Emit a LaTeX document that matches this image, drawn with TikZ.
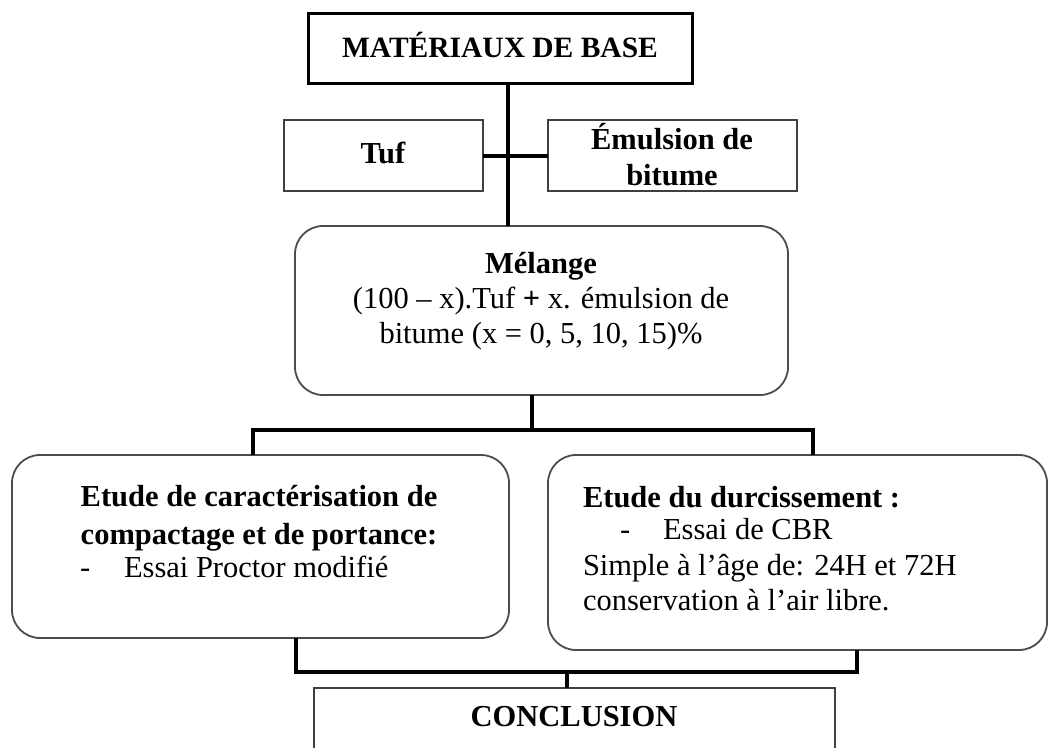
\documentclass[tikz,border=0pt]{standalone}
\usepackage{fontspec}
\setmainfont{Liberation Serif}
\begin{document}
\begin{tikzpicture}[x=1pt,y=-1pt,
  every node/.style={inner sep=0pt,outer sep=0pt},
  sqbox/.style={draw=black!75,line width=2.2pt,anchor=north west},
  rbox/.style={draw=black!70,line width=1.8pt,rounded corners=28pt,anchor=north west},
  conn/.style={draw=black,line width=4pt},
  txt/.style={anchor=base,font=\fontsize{30.5}{36}\selectfont},
  txtl/.style={anchor=base west,font=\fontsize{30.5}{36}\selectfont}]
\useasboundingbox (0,0) rectangle (1049,747);
\fill[white] (0,0) rectangle (1049,747);
% boxes
\node[sqbox,draw=black,line width=3pt,minimum width=384pt,minimum height=70pt] (mat) at (308,13) {};
\node[sqbox,minimum width=199pt,minimum height=71pt] (tuf) at (284,120) {};
\node[sqbox,minimum width=249pt,minimum height=71pt] (emu) at (548,120) {};
\node[rbox,minimum width=493pt,minimum height=169pt] (mel) at (295,226) {};
\node[rbox,minimum width=497pt,minimum height=183pt] (car) at (12,455) {};
\node[rbox,minimum width=499pt,minimum height=195pt] (dur) at (548,455) {};
\node[sqbox,line width=1.8pt,minimum width=521pt,minimum height=90pt] (con) at (314,688) {};
% texts
\node[txt,font=\fontsize{29.5}{35}\selectfont] (matT) at (500,57) {\bfseries MATÉRIAUX DE BASE};
\node[txt] (tufT) at (383,163) {\bfseries Tuf};
\node[txt] (emuT1) at (672,149) {\bfseries Émulsion de};
\node[txt] (emuT2) at (672,185) {\bfseries bitume};
\node[txt] (melT1) at (541,273) {\bfseries Mélange};
\node[txt] (melT2) at (541,308) {(100 – x).Tuf \textbf{+} x. émulsion de};
\node[txt] (melT3) at (541,343) {bitume (x = 0, 5, 10, 15)\%};
\node[txt] (carT1) at (259,506) {\bfseries Etude de caractérisation de};
\node[txt] (carT2) at (259,544) {\bfseries compactage et de portance:};
\node[txtl] (carD) at (80,577) {-};
\node[txtl] (carT3) at (124,577) {Essai Proctor modifié};
\node[txtl] (durT1) at (583,507) {\bfseries Etude du durcissement :};
\node[txtl] (durD) at (620,539) {-};
\node[txtl] (durT2) at (663,539) {Essai de CBR};
\node[txtl] (durT3) at (583,575) {Simple à l’âge de: 24H et 72H};
\node[txtl] (durT4) at (583,610) {conservation à l’air libre.};
\node[txt] (conT) at (574,726) {\bfseries CONCLUSION};
% junctions
\coordinate (j1) at (508,157);
\coordinate (j2) at (532,430);
\coordinate (hL) at (253,430);
\coordinate (hR) at (813,430);
\coordinate (bL) at (296,672);
\coordinate (bR) at (857,672);
\coordinate (bC) at (567,672);
% connectors
\draw[conn] (mat.south -| j1) -- (mel.north -| j1);
\draw[conn] (tuf.east) -- (emu.west);
\draw[conn] (mel.south -| j2) -- (j2);
\draw[conn] (car.north -| hL) -- (hL) -- (hR) -- (dur.north -| hR);
\draw[conn] (car.south -| bL) -- (bL) -- (bR) -- (dur.south -| bR);
\draw[conn] (bC) -- (con.north -| bC);
\end{tikzpicture}
\end{document}
